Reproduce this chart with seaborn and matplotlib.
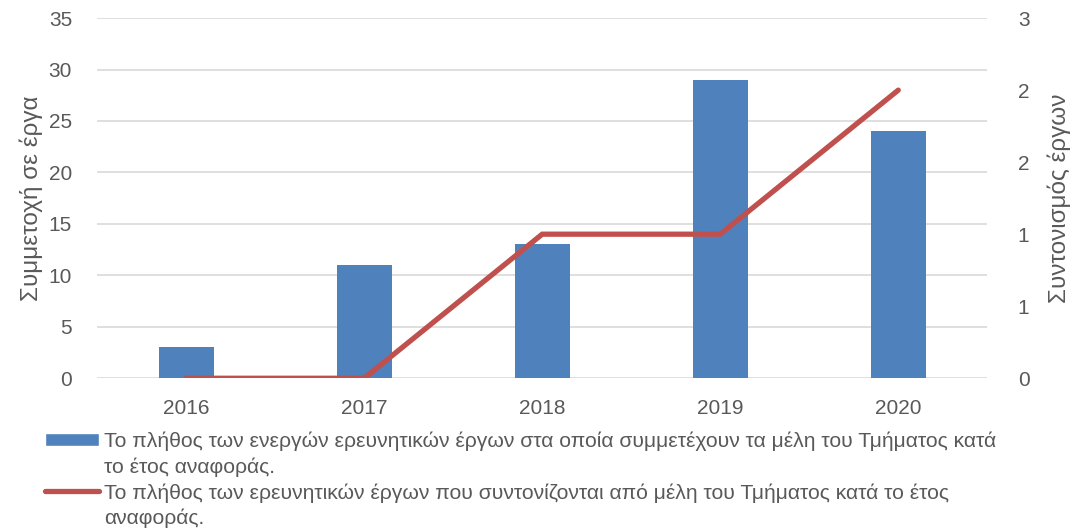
import matplotlib
matplotlib.use("Agg")
import matplotlib.pyplot as plt
from matplotlib.patches import Patch
from matplotlib.lines import Line2D
from matplotlib.ticker import FuncFormatter, MultipleLocator
import pandas as pd
import seaborn as sns

years = ["2016", "2017", "2018", "2019", "2020"]
participation = [3, 11, 13, 29, 24]
coordination = [0, 0, 1, 1, 2]

bar_label = ("Το πλήθος των ενεργών ερευνητικών έργων στα οποία συμμετέχουν τα μέλη του Τμήματος κατά",
             "το έτος αναφοράς.")
line_label = ("Το πλήθος των ερευνητικών έργων που συντονίζονται από μέλη του Τμήματος κατά το έτος",
              "αναφοράς.")

BLUE = "#4F81BD"
RED = "#C0504D"
GREY = "#595959"

sns.set_style("white")
plt.rcParams["font.family"] = ["Liberation Sans", "DejaVu Sans"]

df = pd.DataFrame({"year": years, "part": participation, "coord": coordination})

fig = plt.figure(figsize=(10.79, 5.32), dpi=100)
ax = fig.add_axes([0.09, 0.289, 0.825, 0.677])

sns.barplot(data=df, x="year", y="part", color=BLUE, saturation=1, width=0.31,
            linewidth=0, ax=ax)
ax.set_ylim(0, 35)
ax.yaxis.set_major_locator(MultipleLocator(5))
ax.set_xlim(-0.5, 4.5)
ax.grid(axis="y", color="#D9D9D9", linewidth=1.2)
ax.set_axisbelow(True)
for s in ax.spines.values():
    s.set_visible(False)
ax.tick_params(axis="both", length=0, labelsize=15, colors=GREY)
ax.tick_params(axis="y", pad=18)
ax.tick_params(axis="x", pad=15)
ax.set_xlabel("")
ax.set_ylabel("Συμμετοχή σε έργα", fontsize=17.5, color=GREY, labelpad=4)

ax2 = ax.twinx()
sns.pointplot(data=df, x="year", y="coord", color=RED, markers="", linewidth=3.8, ax=ax2)
for ln in ax2.lines:
    ln.set_solid_capstyle("round")
    ln.set_solid_joinstyle("miter")
ax2.set_ylim(0, 2.5)
ax2.set_xlim(-0.5, 4.5)
ax2.yaxis.set_major_locator(MultipleLocator(0.5))
# Excel style: zero decimals, halves round up
ax2.yaxis.set_major_formatter(FuncFormatter(lambda v, p: str(int(v + 0.5))))
for s in ax2.spines.values():
    s.set_visible(False)
ax2.tick_params(axis="y", length=0, labelsize=15, colors=GREY, pad=22)
ax2.set_xlabel("")
ax2.set_ylabel("Συντονισμός έργων", fontsize=17.5, color=GREY, labelpad=13, rotation=90)
ax2.grid(False)

blank = Patch(visible=False)
handles = [Patch(facecolor=BLUE), blank,
           Line2D([], [], color=RED, linewidth=3.8, solid_capstyle="round"), blank]
labels = [bar_label[0], bar_label[1], line_label[0], line_label[1]]
leg = fig.legend(handles, labels, loc="upper left", bbox_to_anchor=(0.034, 0.205),
                 frameon=False, fontsize=15.2, handlelength=2.55, handleheight=0.6,
                 handletextpad=0.25, labelspacing=0.3, borderaxespad=0)
for t in leg.get_texts():
    t.set_color(GREY)

fig.savefig("out.png", dpi=100)
